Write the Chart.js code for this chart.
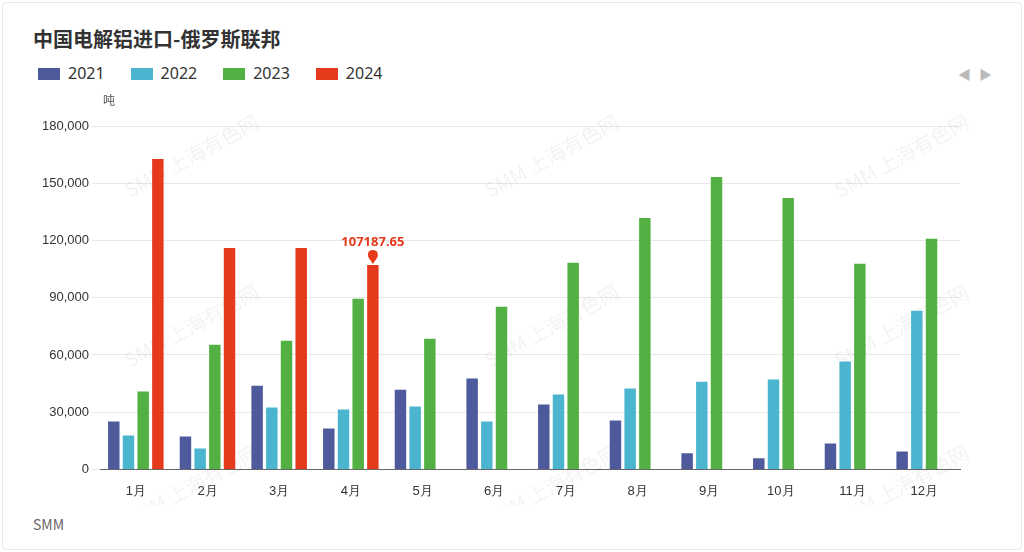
<!DOCTYPE html>
<html><head><meta charset="utf-8">
<script src="https://cdn.jsdelivr.net/npm/chart.js@4/dist/chart.umd.min.js"></script>
<style>
body{margin:0;background:#fff;font-family:"Noto Sans CJK SC","Noto Sans",sans-serif}
.card{position:absolute;left:2px;top:2px;width:1018px;height:546px;border:1px solid #e6e6e6;border-radius:4px}
h1{position:absolute;left:33px;top:24px;margin:0;font-size:20px;font-weight:bold;color:#333}
.src{position:absolute;left:33px;top:514px;font-size:14px;color:#666}
.nav{position:absolute;left:958px;top:64px;font-size:13px;color:#bbb;letter-spacing:8px}
.legend{position:absolute;left:38px;top:62px;font-family:"Noto Sans";font-size:16px;color:#333}
.legend span{display:inline-block;margin-right:26px}
.legend i{display:inline-block;width:22px;height:12px;margin-right:8px;vertical-align:-1px}
.wrap{position:absolute;left:20px;top:88px;width:980px;height:417px}
</style></head><body>
<div class="card"></div>
<h1>中国电解铝进口-俄罗斯联邦</h1>
<div class="legend"></div>
<div class="nav">◀▶</div>
<div class="wrap"><canvas id="c" width="980" height="417"></canvas></div>
<div class="src">SMM</div>
<script>
const months = ["1月","2月","3月","4月","5月","6月","7月","8月","9月","10月","11月","12月"];
const years = ["2021","2022","2023","2024"];
const colors = ["#4e5a9c","#4bb5cf","#53b143","#e63a1c"];
const v2021 = [25100,17300,43900,21400,41800,47600,34000,25600,8400,5800,13600,9400];
const v2022 = [17800,11000,32400,31400,33000,25100,39200,42400,46000,47100,56500,83200];
const v2023 = [40800,65400,67500,89500,68500,85300,108300,131800,153300,142300,107800,120900];
const v2024 = [162700,116100,116100,107187.65,null,null,null,null,null,null,null,null];
const series = [v2021, v2022, v2023, v2024];

document.querySelector(".legend").innerHTML =
  years.map((y, i) => `<span><i style="background:${colors[i]}"></i>${y}</span>`).join("");

const extras = {
  id: "extras",
  beforeDatasetsDraw(chart) {
    const ctx = chart.ctx;
    ctx.save();
    ctx.font = "20px 'Noto Sans CJK SC'";
    ctx.fillStyle = "rgba(0,0,0,0.05)";
    for (const [x, y] of [[180,72],[540,72],[890,72],[180,242],[540,242],[890,242],[180,402],[540,402],[890,402]]) {
      ctx.save(); ctx.translate(x, y); ctx.rotate(-0.5);
      ctx.fillText("SMM 上海有色网", -80, 0); ctx.restore();
    }
    ctx.fillStyle = "#555"; ctx.font = "12px 'Noto Sans CJK SC'";
    ctx.fillText("吨", 83, 17);
    ctx.restore();
  },
  afterDatasetsDraw(chart) {
    const bar = chart.getDatasetMeta(3).data[3];
    const ctx = chart.ctx;
    ctx.save();
    ctx.fillStyle = "#e63a1c";
    ctx.beginPath(); ctx.arc(bar.x, bar.y - 10, 5, 0, Math.PI * 2); ctx.fill();
    ctx.beginPath(); ctx.moveTo(bar.x - 4, bar.y - 7); ctx.lineTo(bar.x + 4, bar.y - 7); ctx.lineTo(bar.x, bar.y - 1); ctx.fill();
    ctx.font = "bold 13px 'Noto Sans'"; ctx.textAlign = "center";
    ctx.fillText("107187.65", bar.x, bar.y - 19);
    ctx.restore();
  }
};

new Chart(document.getElementById("c"), {
  type: "bar",
  data: {
    labels: months,
    datasets: series.map((d, i) => ({ label: years[i], data: d, backgroundColor: colors[i] }))
  },
  options: {
    responsive: false,
    animation: false,
    layout: { padding: { top: 38, right: 40 } },
    datasets: { bar: { barPercentage: 0.78, categoryPercentage: 0.82 } },
    plugins: { legend: { display: false }, tooltip: { enabled: false } },
    scales: {
      x: { grid: { display: false }, border: { color: "#666" },
           ticks: { color: "#333", font: { size: 13 }, maxRotation: 0, autoSkip: false, padding: 6 } },
      y: {
        min: 0, max: 180000,
        afterFit: s => { s.width = 80; },
        ticks: { stepSize: 30000, color: "#333", font: { size: 13 }, callback: v => v.toLocaleString("en-US") },
        grid: { color: "#e8e8e8" }, border: { display: false }
      }
    }
  },
  plugins: [extras]
});
</script>
</body></html>
